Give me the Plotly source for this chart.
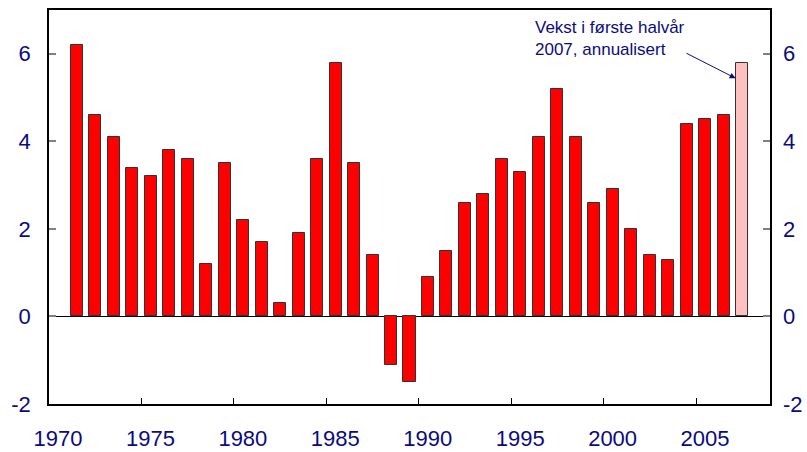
import plotly.graph_objects as go

years = list(range(1971, 2008))
values = [6.2, 4.6, 4.1, 3.4, 3.2, 3.8, 3.6, 1.2, 3.5, 2.2,
          1.7, 0.3, 1.9, 3.6, 5.8, 3.5, 1.4, -1.1, -1.5, 0.9,
          1.5, 2.6, 2.8, 3.6, 3.3, 4.1, 5.2, 4.1, 2.6, 2.9,
          2.0, 1.4, 1.3, 4.4, 4.5, 4.6, 5.8]
colors = ["#ff0000"] * (len(years) - 1) + ["#ffc0c0"]

tick_labels = ["1970", "1975", "1980", "1985", "1990", "1995", "2000", "2005"]
tick_pos = [int(t) - 0.5 for t in tick_labels]
y_ticks = [-2, 0, 2, 4, 6]
y_tick_text = ["-2", "0", "2", "4", "6"]

navy = "#0b0b80"
font_family = "Liberation Sans, Arial, sans-serif"

fig = go.Figure()
fig.add_trace(go.Bar(
    x=years, y=values, width=0.65,
    marker=dict(color=colors, line=dict(color="#333333", width=1)),
    showlegend=False,
))
fig.add_trace(go.Scatter(x=[2000], y=[0], yaxis="y2", mode="markers",
                         marker=dict(opacity=0), showlegend=False, hoverinfo="skip"))

fig.update_layout(
    width=807, height=452,
    margin=dict(l=49, r=37, t=10, b=48),
    paper_bgcolor="white", plot_bgcolor="white",
    font=dict(family=font_family, color=navy, size=22),
    bargap=0,
    xaxis=dict(
        range=[1969.5, 2008.5], tickvals=tick_pos, ticktext=tick_labels,
        ticks="inside", ticklen=6, tickwidth=1.2, tickcolor="black",
        ticklabelshift=9, ticklabelstandoff=14, automargin=False,
        showline=True, linecolor="black", linewidth=1.5, mirror=True,
        showgrid=False, zeroline=False,
        tickfont=dict(size=22, color=navy),
    ),
    yaxis=dict(
        range=[-2, 7], tickvals=y_ticks, ticktext=y_tick_text,
        ticks="inside", ticklen=7, tickwidth=1.5, tickcolor="#808080",
        ticklabelstandoff=12, automargin=False,
        showline=True, linecolor="black", linewidth=1.5, mirror=True,
        showgrid=False, zeroline=True, zerolinecolor="black", zerolinewidth=1.2,
        tickfont=dict(size=22, color=navy),
    ),
    yaxis2=dict(
        range=[-2, 7], tickvals=y_ticks, ticktext=y_tick_text,
        overlaying="y", side="right",
        ticks="inside", ticklen=7, tickwidth=1.5, tickcolor="#808080",
        ticklabelstandoff=12, automargin=False,
        showline=False, showgrid=False, zeroline=False,
        tickfont=dict(size=22, color=navy),
    ),
    annotations=[
        dict(x=1995.68, y=6.86, xref="x", yref="y",
             xanchor="left", yanchor="top",
             text="Vekst i første halvår<br>2007, annualisert",
             showarrow=False, align="left",
             font=dict(size=17, color=navy, family=font_family)),
        dict(x=2006.64, y=5.44, xref="x", yref="y",
             ax=2003.9, ay=6.03, axref="x", ayref="y",
             text="", showarrow=True, arrowhead=2, arrowsize=1.2,
             arrowwidth=1, arrowcolor=navy),
    ],
)

fig.write_html("out.html", config={"displayModeBar": False},
               post_script="document.body.style.margin='0px';document.body.style.padding='0px';")
